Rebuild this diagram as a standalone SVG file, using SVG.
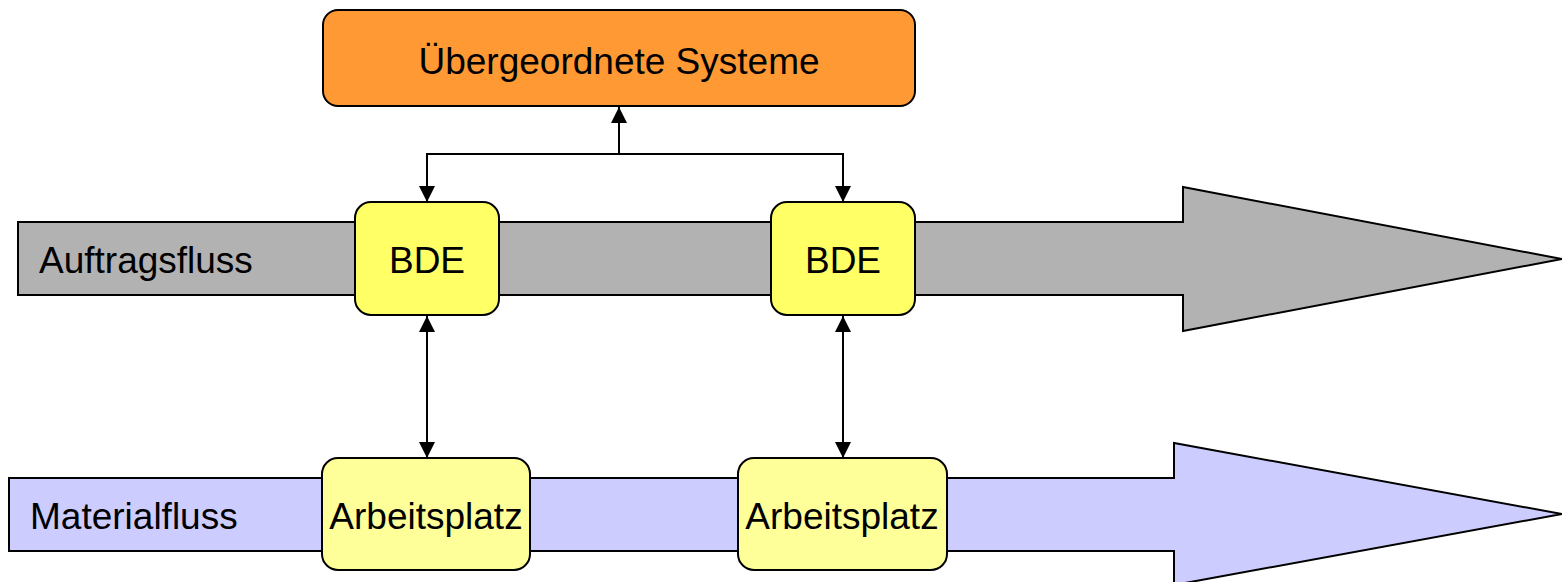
<svg xmlns="http://www.w3.org/2000/svg" width="1562" height="582" viewBox="0 0 1562 582">
  <style>
    .lbl { font-family: "Liberation Sans", Arial, sans-serif; font-size: 37px; fill: #000; }
    .mid { text-anchor: middle; }
    .flow { stroke: #000; stroke-width: 2; stroke-linejoin: miter; }
    .box { stroke: #000; stroke-width: 2; }
    .conn { fill: none; stroke: #000; stroke-width: 2; }
  </style>
  <defs>
    <marker id="head" markerUnits="userSpaceOnUse" markerWidth="16" markerHeight="16" viewBox="0 0 16 16" refX="16" refY="8" orient="auto-start-reverse">
      <path d="M0,0 L16,8 L0,16 z" fill="#000"/>
    </marker>
  </defs>

  <!-- flow arrows -->
  <g id="auftragsfluss">
    <polygon class="flow" fill="#B2B2B2" points="18,222 1183,222 1183,187 1562,259 1183,331 1183,295 18,295"/>
    <text class="lbl" x="39" y="273">Auftragsfluss</text>
  </g>
  <g id="materialfluss">
    <polygon class="flow" fill="#CCCCFF" points="9,478 1174,478 1174,443 1562,514 1174,585 1174,551 9,551"/>
    <text class="lbl" x="30" y="529">Materialfluss</text>
  </g>

  <!-- connectors -->
  <g id="connectors">
    <path class="conn" d="M427,202 V154 H843 V202" marker-start="url(#head)" marker-end="url(#head)"/>
    <path class="conn" d="M619,154 V107" marker-end="url(#head)"/>
    <path class="conn" d="M427,316 V458" marker-start="url(#head)" marker-end="url(#head)"/>
    <path class="conn" d="M843,316 V458" marker-start="url(#head)" marker-end="url(#head)"/>
  </g>

  <!-- nodes -->
  <g id="systeme">
    <rect class="box" x="323" y="10" width="592" height="96" rx="15" fill="#FF9933"/>
    <text class="lbl mid" x="619" y="74">Übergeordnete Systeme</text>
  </g>
  <g id="bde1">
    <rect class="box" x="355" y="202" width="144" height="113" rx="16" fill="#FFFF66"/>
    <text class="lbl mid" x="427" y="273">BDE</text>
  </g>
  <g id="bde2">
    <rect class="box" x="771" y="202" width="144" height="113" rx="16" fill="#FFFF66"/>
    <text class="lbl mid" x="843" y="273">BDE</text>
  </g>
  <g id="arbeitsplatz1">
    <rect class="box" x="322" y="458" width="208" height="112" rx="16" fill="#FFFF99"/>
    <text class="lbl mid" x="426" y="529">Arbeitsplatz</text>
  </g>
  <g id="arbeitsplatz2">
    <rect class="box" x="738" y="458" width="209" height="112" rx="16" fill="#FFFF99"/>
    <text class="lbl mid" x="842" y="529">Arbeitsplatz</text>
  </g>
</svg>
